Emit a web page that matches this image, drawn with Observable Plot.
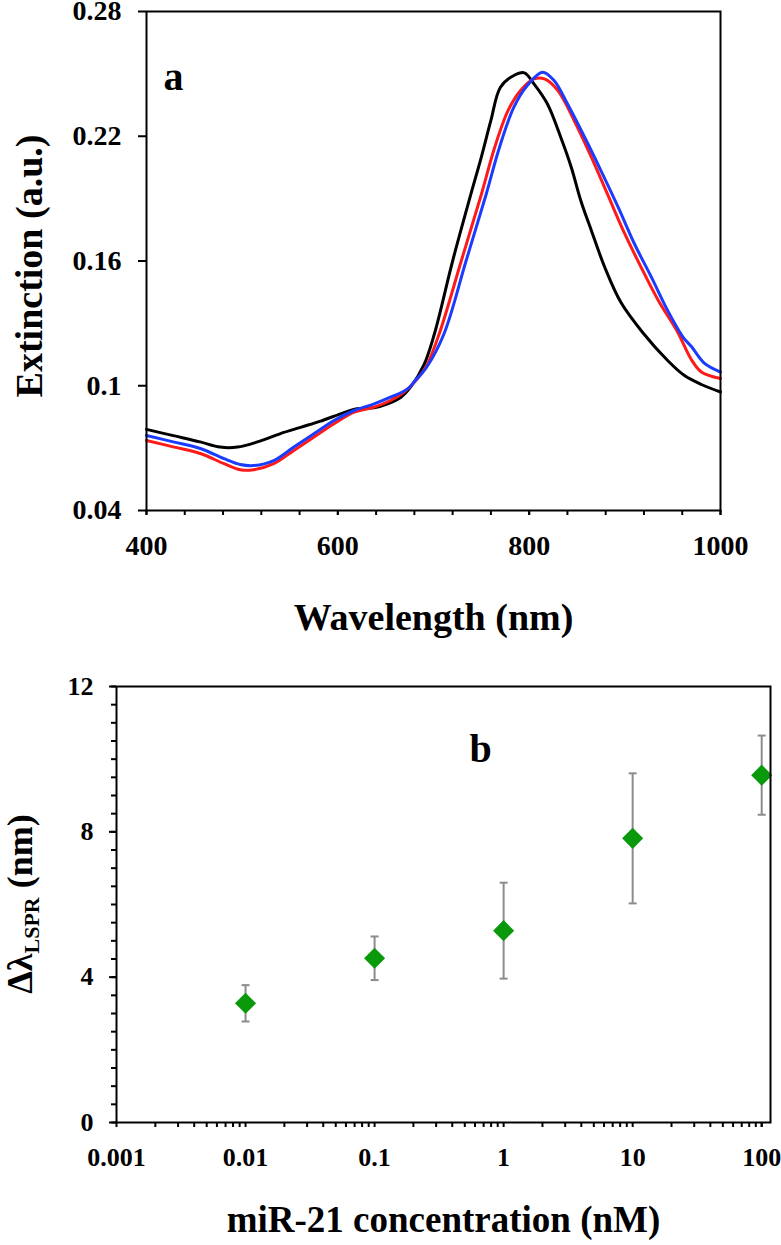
<!DOCTYPE html>
<html>
<head>
<meta charset="utf-8">
<script src="https://cdn.jsdelivr.net/npm/d3@7"></script>
<script src="https://cdn.jsdelivr.net/npm/@observablehq/plot@0.6"></script>
<style>
  html, body { margin: 0; padding: 0; background: #fff; }
  #chart-a svg, #chart-b svg { display: block; }
</style>
</head>
<body>
<div id="chart-a"></div>
<div id="chart-b"></div>
<script>
// ---------- Panel a: extinction spectra ----------
const blackNm  = [400, 428, 456, 477, 495, 516, 540, 561, 582, 603, 620, 638, 652, 666, 676, 690, 701, 720, 739, 750, 760, 770, 784, 795, 805, 819, 833, 844, 854, 865, 879, 896, 918, 945, 962, 980, 1000];
const blackExt = [0.079, 0.076, 0.073, 0.0705, 0.0705, 0.073, 0.077, 0.080, 0.083, 0.0865, 0.089, 0.0894, 0.0913, 0.0945, 0.0993, 0.110, 0.125, 0.160, 0.192, 0.210, 0.2276, 0.2436, 0.2492, 0.2505, 0.2452, 0.2356, 0.2195, 0.2051, 0.189, 0.1747, 0.157, 0.140, 0.126, 0.112, 0.105, 0.1006, 0.097];

const redNm  = [400, 429, 457, 481, 498, 512, 533, 554, 575, 596, 617, 638, 655, 669, 680, 692, 706, 729, 750, 764, 778, 791, 805, 816, 830, 847, 865, 882, 900, 917, 935, 955, 969, 980, 1000];
const redExt = [0.0737, 0.0705, 0.0673, 0.0625, 0.0596, 0.0596, 0.0625, 0.0689, 0.0753, 0.0817, 0.0873, 0.0897, 0.0929, 0.0969, 0.1017, 0.109, 0.125, 0.160, 0.192, 0.2147, 0.2324, 0.242, 0.2476, 0.2476, 0.242, 0.2276, 0.210, 0.192, 0.173, 0.157, 0.141, 0.126, 0.113, 0.1066, 0.1035];

const blueNm  = [400, 429, 457, 481, 498, 512, 533, 554, 575, 596, 617, 638, 655, 673, 681, 693, 711, 734, 755, 769, 784, 798, 814, 826, 840, 858, 875, 893, 910, 928, 945, 961, 970, 983, 1000];
const blueExt = [0.0761, 0.0729, 0.0697, 0.0649, 0.0621, 0.0616, 0.064, 0.0705, 0.0769, 0.0833, 0.0881, 0.0913, 0.0945, 0.0985, 0.1025, 0.109, 0.125, 0.160, 0.192, 0.2147, 0.234, 0.2444, 0.2508, 0.2468, 0.2356, 0.2195, 0.2035, 0.1859, 0.1683, 0.152, 0.136, 0.1233, 0.1186, 0.1109, 0.1066];

const xTicksA = [400, 600, 800, 1000];
const xTickLabelsA = ["400", "600", "800", "1000"];
const xMinorTicksA = [400, 440, 480, 520, 560, 600, 640, 680, 720, 760, 800, 840, 880, 920, 960, 1000];
const yTicksA = [0.04, 0.1, 0.16, 0.22, 0.28];
const yTickLabelsA = ["0.04", "0.1", "0.16", "0.22", "0.28"];

// ---------- Panel b: LSPR shift vs concentration ----------
const concentrations = [0.01, 0.1, 1, 10, 100];
const shiftMean = [3.28, 4.52, 5.28, 7.82, 9.56];
const shiftErr  = [0.50, 0.60, 1.32, 1.79, 1.09];

const xTicksB = [0.001, 0.01, 0.1, 1, 10, 100];
const xTickLabelsB = ["0.001", "0.01", "0.1", "1", "10", "100"];
const yTicksB = [0, 4, 8, 12];
const yMinorTicksB = [0, 0.5, 1, 1.5, 2, 2.5, 3, 3.5, 4, 4.5, 5, 5.5, 6, 6.5, 7, 7.5, 8, 8.5, 9, 9.5, 10, 10.5, 11, 11.5, 12];

// ---------- build ----------
const serif = "'Liberation Serif', 'Times New Roman', Times, serif";
const toRows = (nm, ext) => nm.map((w, i) => ({nm: w, ext: ext[i]}));
const blackRows = toRows(blackNm, blackExt);
const redRows = toRows(redNm, redExt);
const blueRows = toRows(blueNm, blueExt);

const xLabelMapA = new Map(xTicksA.map((v, i) => [v, xTickLabelsA[i]]));
const yLabelMapA = new Map(yTicksA.map((v, i) => [v, yTickLabelsA[i]]));
const xLabelMapB = new Map(xTicksB.map((v, i) => [v, xTickLabelsB[i]]));

const xMinorTicksB = [];
for (const d of [0.001, 0.01, 0.1, 1, 10]) for (let k = 2; k <= 9; k++) xMinorTicksB.push(+(d * k).toPrecision(3));
xMinorTicksB.push(100);

const points = concentrations.map((c, i) => ({c, m: shiftMean[i], lo: shiftMean[i] - shiftErr[i], hi: shiftMean[i] + shiftErr[i]}));

const capSymbol = {
  draw(context, size) {
    const w = Math.sqrt(size / Math.PI);
    context.moveTo(-w, 0);
    context.lineTo(w, 0);
  }
};

const plotA = Plot.plot({
  width: 781,
  height: 650,
  marginTop: 11,
  marginBottom: 140,
  marginLeft: 146,
  marginRight: 61,
  style: {fontFamily: serif, fontWeight: "bold", color: "black", background: "white"},
  x: {domain: [400, 1000]},
  y: {domain: [0.04, 0.28]},
  marks: [
    Plot.line(blackRows, {x: "nm", y: "ext", stroke: "#000000", strokeWidth: 3, curve: "catmull-rom"}),
    Plot.line(redRows, {x: "nm", y: "ext", stroke: "#ff1a1a", strokeWidth: 3, curve: "catmull-rom"}),
    Plot.line(blueRows, {x: "nm", y: "ext", stroke: "#1a3cff", strokeWidth: 3, curve: "catmull-rom"}),
    Plot.axisX(xMinorTicksA, {tickSize: 5, strokeWidth: 2, tickFormat: () => "", label: null}),
    Plot.axisX(xTicksA, {tickSize: 5, strokeWidth: 2, tickPadding: 20, fontSize: 28, fontWeight: "bold", tickFormat: d => xLabelMapA.get(d), label: null}),
    Plot.axisY(yTicksA, {tickSize: 8, strokeWidth: 2, tickPadding: 17, fontSize: 28, fontWeight: "bold", tickFormat: d => yLabelMapA.get(d), label: null}),
    Plot.frame({stroke: "black", strokeWidth: 2}),
    Plot.text(["a"], {frameAnchor: "top-left", text: d => d, dx: 27, dy: 66, fontSize: 40, fontWeight: "bold", textAnchor: "middle", lineAnchor: "middle"}),
    Plot.text(["Wavelength (nm)"], {frameAnchor: "bottom", text: d => d, dy: 107, fontSize: 38, fontWeight: "bold", textAnchor: "middle", lineAnchor: "middle"}),
    Plot.text(["Extinction (a.u.)"], {frameAnchor: "left", text: d => d, dx: -117, dy: 5, rotate: -90, fontSize: 38, fontWeight: "bold", textAnchor: "middle", lineAnchor: "middle"})
  ]
});
document.getElementById("chart-a").append(plotA);

const plotB = Plot.plot({
  width: 781,
  height: 595,
  marginTop: 36,
  marginBottom: 123,
  marginLeft: 116,
  marginRight: 11,
  style: {fontFamily: serif, fontWeight: "bold", color: "black", background: "white"},
  x: {type: "log", domain: [0.001, 117]},
  y: {domain: [0, 12]},
  marks: [
    Plot.ruleX(points, {x: "c", y1: "lo", y2: "hi", stroke: "#8c8c8c", strokeWidth: 2}),
    Plot.dot(points, {x: "c", y: "hi", symbol: capSymbol, r: 4, fill: "none", stroke: "#8c8c8c", strokeWidth: 2}),
    Plot.dot(points, {x: "c", y: "lo", symbol: capSymbol, r: 4, fill: "none", stroke: "#8c8c8c", strokeWidth: 2}),
    Plot.dot(points, {x: "c", y: "m", symbol: "diamond2", r: 9.5, fill: "#0a990a", stroke: "none"}),
    Plot.axisX(xMinorTicksB, {tickSize: 5, strokeWidth: 2, tickFormat: () => "", label: null}),
    Plot.axisX(xTicksB, {tickSize: 5, strokeWidth: 2, tickPadding: 20, fontSize: 26, fontWeight: "bold", tickFormat: d => xLabelMapB.get(d), label: null}),
    Plot.axisY(yMinorTicksB, {tickSize: 5, strokeWidth: 2, tickFormat: () => "", label: null}),
    Plot.axisY(yTicksB, {tickSize: 7, strokeWidth: 2, tickPadding: 16, fontSize: 26, fontWeight: "bold", label: null}),
    Plot.frame({stroke: "black", strokeWidth: 2}),
    Plot.text(["b"], {frameAnchor: "top-left", text: d => d, dx: 364, dy: 63, fontSize: 40, fontWeight: "bold", textAnchor: "middle", lineAnchor: "middle"}),
    Plot.text(["miR-21 concentration (nM)"], {frameAnchor: "bottom", text: d => d, dy: 98, fontSize: 37, fontWeight: "bold", textAnchor: "middle", lineAnchor: "middle"})
  ]
});
document.getElementById("chart-b").append(plotB);

// rotated y title with subscript for panel b
const yB = plotB.scale("y");
const cy = yB.apply(6);
const title = d3.select(plotB).append("text")
  .attr("transform", `translate(20,${cy}) rotate(-90)`)
  .attr("text-anchor", "middle")
  .attr("dy", "0.33em")
  .attr("font-family", serif)
  .attr("font-weight", "bold")
  .attr("font-size", 36)
  .attr("fill", "black");
title.append("tspan").text("Δλ");
title.append("tspan").attr("font-size", 22).attr("dy", 7).text("LSPR");
title.append("tspan").attr("dy", -7).text(" (nm)");
</script>
</body>
</html>
